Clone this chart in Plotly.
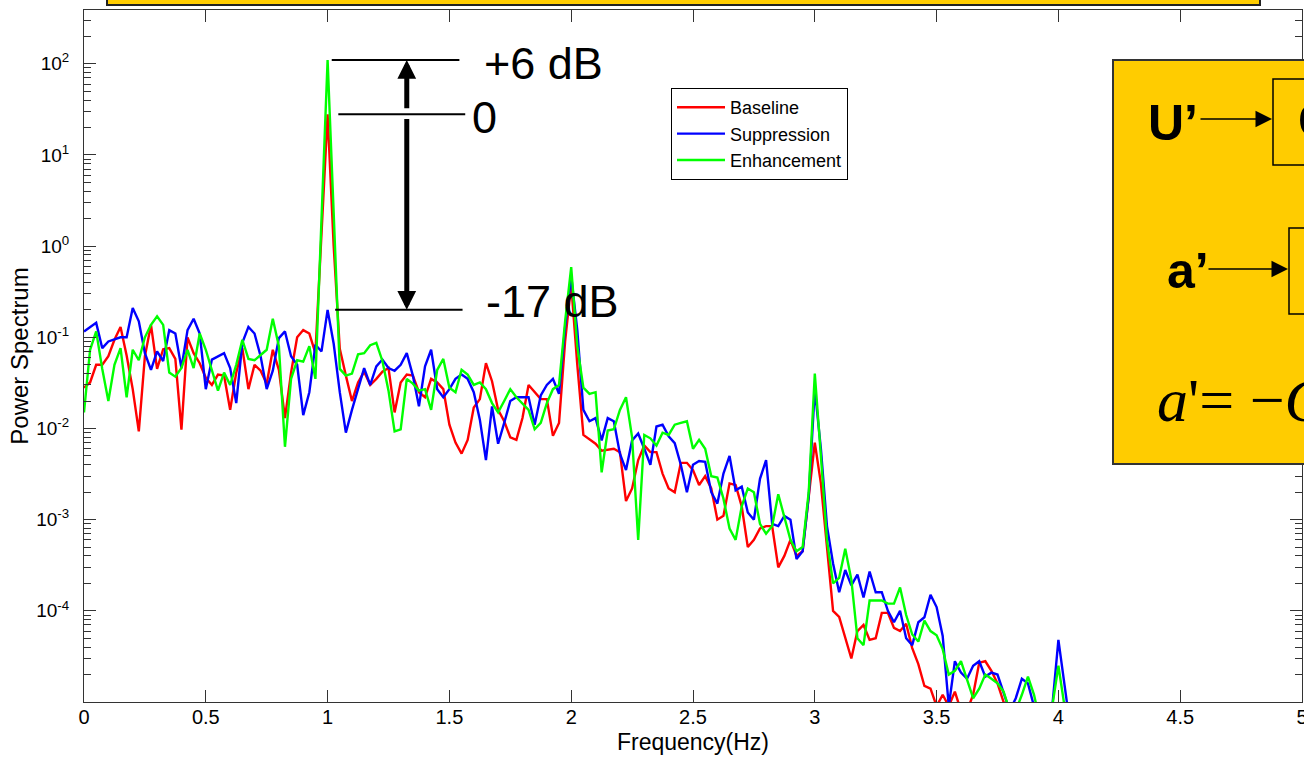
import numpy as np
import plotly.graph_objects as go

# ---------------- data ----------------
FREQ_STEP = 0.025  # Hz between spectral points

baseline = [
    0.028, 0.032, 0.05, 0.05, 0.062, 0.094, 0.13, 0.063, 0.027, 0.0093,
    0.062, 0.137, 0.045, 0.074, 0.076, 0.058, 0.0097, 0.1, 0.067, 0.052,
    0.036, 0.03, 0.039, 0.038, 0.016, 0.041, 0.076, 0.027, 0.05, 0.043,
    0.031, 0.073, 0.044, 0.013, 0.041, 0.1, 0.12, 0.11, 0.067, 1.4,
    28.0,
    1.0, 0.075, 0.038, 0.02, 0.032, 0.042, 0.03, 0.035, 0.042, 0.046,
    0.015, 0.032, 0.039, 0.038, 0.025, 0.022, 0.035, 0.032, 0.027, 0.011,
    0.007, 0.0053, 0.0075, 0.017, 0.021, 0.052, 0.033, 0.016, 0.012, 0.008,
    0.0075, 0.013, 0.03, 0.025, 0.021, 0.021, 0.0083, 0.0115, 0.09, 0.38,
    0.05, 0.0085, 0.0076, 0.0068, 0.0057, 0.0058, 0.006, 0.0055, 0.0016, 0.0022,
    0.0045, 0.0065, 0.0055, 0.0055, 0.0032, 0.0022, 0.002, 0.0042, 0.0042, 0.0035,
    0.0024, 0.003, 0.0022, 0.001, 0.0011, 0.0025, 0.0024, 0.0014, 0.0005, 0.0006,
    0.0008, 0.00085, 0.00085, 0.0003, 0.0004, 0.0006, 0.0004, 0.00045, 0.0018, 0.007,
    0.0025, 0.0005, 0.0001, 8.6e-5, 5e-5, 3e-5, 6e-5, 7e-5, 4.8e-5, 5e-5,
    9.5e-5, 9.5e-5, 6.5e-5, 6e-5, 7.2e-5, 3.9e-5, 2.6e-5, 1.5e-5, 1.4e-5, 9e-6,
    1.2e-5, 9e-6, 1.3e-5, 8e-6, 8e-6, 1.2e-5, 2.7e-5, 2.8e-5, 2.2e-5, 1.6e-5,
    1e-5, 7e-6, 6e-6, 8e-6, 6e-6, 6e-6, 6e-6, 6e-6, 6e-6, 6e-6,
    6e-6, 6e-6,
]

suppression = [
    0.116, 0.13, 0.144, 0.076, 0.09, 0.095, 0.1, 0.1, 0.21, 0.15,
    0.067, 0.044, 0.07, 0.055, 0.12, 0.11, 0.046, 0.12, 0.16, 0.11,
    0.027, 0.057, 0.062, 0.067, 0.046, 0.019, 0.087, 0.13, 0.11, 0.062,
    0.027, 0.043, 0.098, 0.116, 0.062, 0.05, 0.014, 0.025, 0.083, 0.07,
    0.2,
    0.085, 0.025, 0.009, 0.016, 0.028, 0.046, 0.03, 0.048, 0.057, 0.046,
    0.043, 0.05, 0.067, 0.038, 0.0175, 0.048, 0.073, 0.027, 0.022, 0.027,
    0.035, 0.039, 0.035, 0.025, 0.0125, 0.0045, 0.0175, 0.0068, 0.0115, 0.02,
    0.022, 0.022, 0.022, 0.011, 0.023, 0.03, 0.035, 0.024, 0.13, 0.47,
    0.12, 0.016, 0.012, 0.013, 0.0074, 0.013, 0.012, 0.0053, 0.0035, 0.0074,
    0.0088, 0.006, 0.004, 0.0105, 0.011, 0.0082, 0.0069, 0.004, 0.002, 0.004,
    0.0044, 0.0043, 0.002, 0.0015, 0.0032, 0.005, 0.0021, 0.0023, 0.0012, 0.001,
    0.0028, 0.0045, 0.0009, 0.00085, 0.0011, 0.001, 0.00037, 0.00045, 0.0018, 0.027,
    0.006, 0.00085, 0.00033, 0.00016, 0.00028, 0.00019, 0.00025, 0.00014, 0.00027, 0.00016,
    0.00016, 0.0001, 7.5e-5, 0.0001, 5e-5, 4.2e-5, 7.5e-5, 8.5e-5, 0.00015, 0.00011,
    5.3e-5, 9e-6, 2.8e-5, 2.1e-5, 1.8e-5, 2.5e-5, 2.8e-5, 1.9e-5, 2.1e-5, 2.0e-5,
    1.26e-5, 8e-6, 1.1e-5, 1.8e-5, 1.6e-5, 9e-6, 5e-6, 5e-6, 9e-6, 4.8e-5,
    1.5e-5, 5e-6,
]

enhancement = [
    0.015, 0.073, 0.116, 0.045, 0.02, 0.05, 0.076, 0.022, 0.073, 0.056,
    0.1, 0.137, 0.17, 0.137, 0.041, 0.037, 0.046, 0.073, 0.046, 0.11,
    0.073, 0.044, 0.026, 0.041, 0.03, 0.05, 0.094, 0.058, 0.056, 0.064,
    0.073, 0.16, 0.08, 0.0063, 0.035, 0.056, 0.054, 0.08, 0.035, 2.0,
    110.0,
    2.3, 0.045, 0.038, 0.04, 0.065, 0.067, 0.082, 0.087, 0.055, 0.026,
    0.0093, 0.0098, 0.035, 0.031, 0.026, 0.027, 0.016, 0.044, 0.058, 0.028,
    0.025, 0.044, 0.039, 0.03, 0.032, 0.027, 0.019, 0.015, 0.02, 0.027,
    0.022, 0.019, 0.016, 0.0098, 0.0115, 0.019, 0.027, 0.03, 0.15, 0.59,
    0.08, 0.028, 0.024, 0.025, 0.0033, 0.0095, 0.0098, 0.016, 0.022, 0.008,
    0.0006, 0.0085, 0.0078, 0.0065, 0.009, 0.0085, 0.011, 0.0115, 0.012, 0.006,
    0.0075, 0.006, 0.003, 0.0029, 0.0017, 0.0008, 0.0006, 0.0014, 0.0022, 0.002,
    0.0009, 0.0007, 0.00085, 0.0019, 0.0011, 0.0006, 0.00045, 0.0005, 0.002, 0.04,
    0.005, 0.0006, 0.0002, 0.00023, 0.00048, 0.00022, 5e-5, 4.2e-5, 0.00013, 0.00013,
    0.00013, 0.00012, 0.00012, 0.00018, 9e-5, 5.5e-5, 4.6e-5, 7.8e-5, 6e-5, 5.4e-5,
    3.8e-5, 2e-5, 2.2e-5, 2.8e-5, 1.8e-5, 1.1e-5, 1.4e-5, 2e-5, 1.8e-5, 1.6e-5,
    1.3e-5, 8e-6, 8e-6, 1.2e-5, 1.9e-5, 1.2e-5, 6e-6, 6e-6, 9e-6, 2.5e-5,
    9e-6, 5e-6,
]

series_names = ["Baseline", "Suppression", "Enhancement"]
series_colors = ["#FF0000", "#0000FF", "#00FF00"]

x_tick_vals = [0, 0.5, 1, 1.5, 2, 2.5, 3, 3.5, 4, 4.5, 5]
x_tick_text = ["0", "0.5", "1", "1.5", "2", "2.5", "3", "3.5", "4", "4.5", "5"]
y_tick_vals = [1e-4, 1e-3, 1e-2, 1e-1, 1e0, 1e1, 1e2]
y_tick_text = ["10<sup>-4</sup>", "10<sup>-3</sup>", "10<sup>-2</sup>", "10<sup>-1</sup>",
               "10<sup>0</sup>", "10<sup>1</sup>", "10<sup>2</sup>"]
y_minor_vals = [m * 10.0 ** e for e in range(-5, 3) for m in range(2, 10)]

n = len(baseline)
assert len(suppression) == n and len(enhancement) == n
freq = np.round(np.arange(n) * FREQ_STEP, 4)

# ---------------- geometry helpers ----------------
W, H = 1304, 757
PL, PR, PT, PB = 84, 1302, 10, 702   # plot-area pixel box


def px(x):
    return (x - PL) / (PR - PL)


def py(y):
    return (PB - y) / (PB - PT)


FONT = "Liberation Sans, Arial, Helvetica, sans-serif"
SERIF = "Liberation Serif, Times New Roman, serif"
GOLD = "#FFCC00"

fig = go.Figure()
for name, vals, col in zip(series_names, [baseline, suppression, enhancement], series_colors):
    fig.add_trace(go.Scatter(x=freq, y=vals, mode="lines", name=name,
                             line=dict(color=col, width=2.4)))

peak_base = max(baseline)
peak_enh = max(enhancement)
peak_sup = max(suppression[30:50])

shapes = []
annotations = []

# level lines at peaks (data coords)
for lvl, x0, x1 in [(peak_enh, 1.017, 1.541), (peak_base, 1.044, 1.565), (peak_sup, 1.031, 1.554)]:
    shapes.append(dict(type="line", xref="x", yref="y", x0=x0, x1=x1, y0=lvl, y1=lvl,
                       line=dict(color="black", width=2)))

# double arrow
ax_f = 1.325
annotations.append(dict(x=ax_f, y=np.log10(peak_enh), xref="x", yref="y",
                        ax=ax_f, ay=np.log10(peak_base) + 0.05, axref="x", ayref="y",
                        showarrow=True, arrowhead=2, arrowwidth=5, arrowsize=0.75,
                        arrowcolor="black", text=""))
annotations.append(dict(x=ax_f, y=np.log10(peak_sup), xref="x", yref="y",
                        ax=ax_f, ay=np.log10(peak_base) - 0.035, axref="x", ayref="y",
                        showarrow=True, arrowhead=2, arrowwidth=5, arrowsize=0.75,
                        arrowcolor="black", text=""))

for txt, xf, lvl, ys in [("+6 dB", 1.634, peak_enh, -3), ("0", 1.585, peak_base, -3),
                         ("-17 dB", 1.642, peak_sup, 8)]:
    annotations.append(dict(x=xf, y=np.log10(lvl), xref="x", yref="y", text=txt,
                            showarrow=False, xanchor="left", yanchor="middle", yshift=ys,
                            font=dict(family=FONT, size=45, color="black")))

# top yellow strip
shapes.append(dict(type="rect", xref="paper", yref="paper", x0=px(107), x1=px(1260),
                   y0=py(5), y1=py(-30), fillcolor=GOLD, line=dict(color="#222", width=2),
                   layer="above"))
# right yellow panel
shapes.append(dict(type="rect", xref="paper", yref="paper", x0=px(1113), x1=px(1360),
                   y0=py(464), y1=py(60), fillcolor=GOLD, line=dict(color="#333", width=2),
                   layer="above"))
shapes.append(dict(type="rect", xref="paper", yref="paper", x0=px(1273), x1=px(1360),
                   y0=py(165), y1=py(79), fillcolor=GOLD, line=dict(color="black", width=1.5),
                   layer="above"))
shapes.append(dict(type="rect", xref="paper", yref="paper", x0=px(1289), x1=px(1360),
                   y0=py(314), y1=py(228), fillcolor=GOLD, line=dict(color="black", width=1.5),
                   layer="above"))

annotations += [
    dict(x=px(1146), y=py(123), xref="paper", yref="paper", text="<b>U’</b>", showarrow=False,
         xanchor="left", yanchor="middle", font=dict(family=FONT, size=50, color="black")),
    dict(x=px(1296), y=py(121), xref="paper", yref="paper", text="<b>G</b>", showarrow=False,
         xanchor="left", yanchor="middle", font=dict(family=FONT, size=50, color="black")),
    dict(x=px(1165), y=py(271), xref="paper", yref="paper", text="<b>a’</b>", showarrow=False,
         xanchor="left", yanchor="middle", font=dict(family=FONT, size=50, color="black")),
    dict(x=px(1155), y=py(400), xref="paper", yref="paper",
         text="<i>a</i>'= −<i>G</i>", showarrow=False,
         xanchor="left", yanchor="middle", font=dict(family=SERIF, size=62, color="black")),
    dict(x=px(1272), y=py(119), xref="paper", yref="paper", ax=-73, ay=0, text="",
         showarrow=True, arrowhead=2, arrowwidth=1.5, arrowsize=2.2, arrowcolor="black"),
    dict(x=px(1288), y=py(269), xref="paper", yref="paper", ax=-81, ay=0, text="",
         showarrow=True, arrowhead=2, arrowwidth=1.5, arrowsize=2.2, arrowcolor="black"),
]

axis_col = "#333333"
fig.update_layout(
    width=W, height=H,
    margin=dict(l=PL, r=W - PR, t=PT, b=H - PB, autoexpand=False),
    paper_bgcolor="white", plot_bgcolor="white",
    font=dict(family=FONT, color="black", size=19),
    shapes=shapes, annotations=annotations,
    legend=dict(x=px(671), y=py(88), xanchor="left", yanchor="top",
                bgcolor="white", bordercolor="black", borderwidth=1,
                font=dict(family=FONT, size=18, color="black"),
                itemwidth=48, tracegroupgap=0),
    xaxis=dict(range=[0, 5], tickmode="array", tickvals=x_tick_vals, ticktext=x_tick_text,
               ticks="inside", ticklen=12, tickcolor=axis_col, showline=True,
               linecolor=axis_col, linewidth=1, mirror="allticks", showgrid=False,
               zeroline=False, tickfont=dict(size=20), ticklabelstandoff=-3,
               ticklabeloverflow="allow",
               title=dict(text="Frequency(Hz)", font=dict(size=23), standoff=6)),
    yaxis=dict(type="log", range=[-5, 2.59], tickmode="array", tickvals=y_tick_vals,
               ticktext=y_tick_text, ticks="inside", ticklen=12, tickcolor=axis_col,
               showline=True, linecolor=axis_col, linewidth=1, mirror="allticks",
               showgrid=False, tickfont=dict(size=19), ticklabelstandoff=10,
               minor=dict(tickmode="array", tickvals=y_minor_vals, ticks="inside",
                          ticklen=7, tickcolor=axis_col, showgrid=False),
               title=dict(text="Power Spectrum", font=dict(size=24), standoff=0)),
)

fig.write_html("out.html")
